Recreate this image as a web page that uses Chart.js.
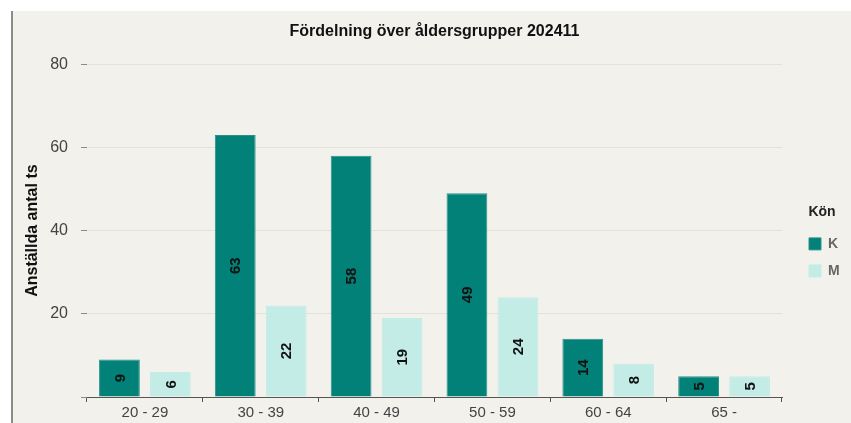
<!DOCTYPE html>
<html>
<head>
<meta charset="utf-8">
<script src="https://cdn.jsdelivr.net/npm/chart.js@4.4.1/dist/chart.umd.min.js"></script>
<style>
    html, body { margin: 0; padding: 0; background: #fff; }
    .panel {
        position: absolute;
        left: 11px;
        top: 11px;
        width: 840px;
        height: 412px;
        background: #f3f1ec;
        border-left: 2px solid #8c8c8c;
    }
    .panel canvas { display: block; }
</style>
</head>
<body>
<div class="panel">
    <canvas id="ageChart" width="838" height="412"></canvas>
</div>
<script>
// Åldersgrupper och antal per kön
const ageGroups = ['20 - 29', '30 - 39', '40 - 49', '50 - 59', '60 - 64', '65 -'];
const womenCount = [9, 63, 58, 49, 14, 5];
const menCount = [6, 22, 19, 24, 8, 5];
const yTicks = [0, 20, 40, 60, 80];

const FONT = '"Liberation Sans", Arial, sans-serif';
const LEGEND_WIDTH = 69;
const LEGEND_SHIFT = 14;
const LEGEND_INNER = 52;

// Skriver värdet roterat mitt i varje stapel
const barValues = {
    id: 'barValues',
    afterDatasetsDraw(chart) {
        const ctx = chart.ctx;
        ctx.save();
        ctx.font = 'bold 15px ' + FONT;
        ctx.fillStyle = '#111';
        ctx.textAlign = 'center';
        ctx.textBaseline = 'middle';
        chart.data.datasets.forEach((ds, i) => {
            chart.getDatasetMeta(i).data.forEach((bar, j) => {
                const midY = (bar.y + bar.base) / 2;
                ctx.save();
                ctx.translate(bar.x, midY);
                ctx.rotate(-Math.PI / 2);
                ctx.fillText(String(ds.data[j]), 0, 1);
                ctx.restore();
            });
        });
        ctx.restore();
    }
};

// Fast bredd på legenden så att ritytan slutar på rätt ställe,
// själva legenden flyttas sedan en bit in i sin ruta
const legendWidth = {
    id: 'legendWidth',
    afterInit(chart) {
        const legend = chart.legend;
        const fit = legend.fit.bind(legend);
        legend.fit = function () {
            fit();
            this.width = LEGEND_WIDTH;
        };
    },
    afterLayout(chart) {
        const legend = chart.legend;
        legend.left += LEGEND_SHIFT;
        legend.width = LEGEND_INNER;
        legend.right = legend.left + LEGEND_INNER;
    }
};

new Chart(document.getElementById('ageChart'), {
    type: 'bar',
    data: {
        labels: ageGroups,
        datasets: [{
            label: 'K',
            data: womenCount,
            backgroundColor: '#018178',
            borderColor: '#2b9188',
            borderWidth: 1,
            categoryPercentage: 0.88,
            barPercentage: 0.8
        }, {
            label: 'M',
            data: menCount,
            backgroundColor: '#c3ece6',
            borderColor: '#c3ece6',
            borderWidth: 1,
            categoryPercentage: 0.88,
            barPercentage: 0.8
        }]
    },
    options: {
        responsive: false,
        animation: false,
        layout: { padding: { left: 10, right: 0, top: 0, bottom: 0 } },
        plugins: {
            title: {
                display: true,
                text: 'Fördelning över åldersgrupper 202411',
                fullSize: false,
                color: '#111',
                font: { family: FONT, size: 16, weight: 'bold' },
                padding: { top: 11, bottom: 23 }
            },
            legend: {
                position: 'right',
                align: 'center',
                title: {
                    display: true,
                    text: 'Kön',
                    position: 'center',
                    color: '#222',
                    font: { family: FONT, size: 14, weight: 'bold' },
                    padding: { top: 62, bottom: 2 }
                },
                labels: {
                    boxWidth: 12,
                    boxHeight: 12,
                    padding: 13,
                    color: '#666',
                    font: { family: FONT, size: 14, weight: 'bold' }
                }
            },
            tooltip: { enabled: false }
        },
        scales: {
            x: {
                grid: {
                    drawOnChartArea: false,
                    drawTicks: true,
                    tickLength: 5,
                    tickColor: '#555'
                },
                border: { color: '#555', width: 1 },
                ticks: {
                    color: '#444',
                    padding: 2,
                    font: { family: FONT, size: 15 }
                },
                afterFit(scale) { scale.height = 26; }
            },
            y: {
                min: 0,
                max: 80,
                afterBuildTicks(scale) {
                    scale.ticks = yTicks.map(v => ({ value: v }));
                },
                grid: {
                    color: '#e3e1dc',
                    tickColor: '#8a8a8a',
                    tickLength: 6
                },
                border: { display: false },
                ticks: {
                    color: '#444',
                    padding: 13,
                    font: { family: FONT, size: 16 },
                    callback: v => (v === 0 ? '' : v)
                },
                title: {
                    display: true,
                    text: 'Anställda antal ts',
                    color: '#111',
                    font: { family: FONT, size: 16, weight: 'bold' },
                    padding: { top: 0, bottom: 0 }
                },
                afterFit(scale) { scale.width = 64; }
            }
        }
    },
    plugins: [barValues, legendWidth]
});
</script>
</body>
</html>
